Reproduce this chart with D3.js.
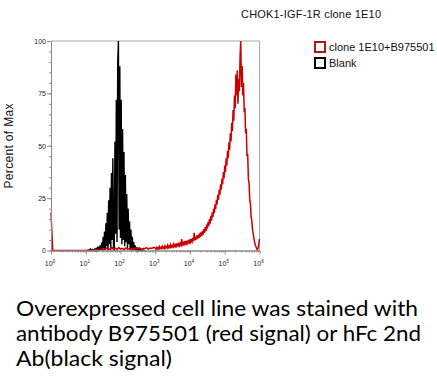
<!DOCTYPE html>
<html>
<head>
<meta charset="utf-8">
<script src="https://cdn.jsdelivr.net/npm/d3@7"></script>
<style>
  body { margin: 0; background: #fff; }
  svg { display: block; }
</style>
</head>
<body>
<svg id="chart" width="437" height="381"></svg>
<script>
// histogram channels, percent of max
const blackStart = 1.0, blackStep = 0.02;
const blackCounts = [
  0, 0, 0, 0, 0, 0.4, 0, 0.6, 0, 0.5,
  0, 0.3, 0, 0.7, 0, 0.8, 0, 1.2, 0.3, 1.8,
  0, 2.6, 0.5, 3.8, 0, 6.5, 1, 9, 0, 13,
  2, 18, 0, 24, 3, 30, 0, 37, 5, 44,
  0, 0, 52, 8, 72, 4, 90, 100, 10, 88,
  6, 72, 3, 58, 5, 47, 2, 36, 4, 27,
  1, 20, 3, 14, 0, 10, 1, 6.5, 0, 4,
  0.5, 2.5, 0, 1.5, 0, 1, 0, 0.6, 0, 0.4,
  0, 0.3, 0, 0.2, 0, 0
];

const redLowStart = 0.0, redLowStep = 0.05;
const redLowCounts = [
  18, 0, 0, 0, 0, 0, 0, 0, 0, 0, 0, 0, 0, 0, 0, 0, 0, 0, 0, 0,
  0, 0, 0, 0, 0, 0.3, 0, 0.5, 0.2, 0.8, 0.3, 0.6, 1.2, 0.4, 0.9, 1.5, 0.6, 1.1, 0.5, 1.4,
  0.7, 1.0, 0.4, 1.2, 0.6, 0.9, 0.5, 1.1, 0.7, 1.3, 0.8, 1.2, 0.6, 1.0, 0.9, 1.4, 0.7, 1.2, 1.0, 1.5
];

const redHighStart = 3.0, redHighStep = 0.02;
const redHighCounts = [
  1.2, 0.6, 1.5, 0.8, 1.3, 0.7, 1.8, 1.0, 1.4, 0.9, 2.0, 1.1, 1.6, 1.0, 2.2, 1.3, 1.8, 1.2, 2.5, 1.4,
  2.0, 1.5, 2.8, 1.6, 2.2, 1.7, 3.0, 1.8, 2.6, 2.0, 3.4, 2.1, 2.9, 2.3, 3.8, 2.4, 3.2, 2.6, 5.5, 2.8,
  3.6, 2.9, 4.4, 3.1, 4.0, 3.3, 4.8, 3.5, 4.4, 3.8, 5.4, 4.0, 5.0, 4.2, 6.0, 4.5, 8.5, 4.8, 6.6, 5.2,
  7.2, 5.6, 7.6, 6.0, 8.2, 6.5, 8.8, 7.0, 9.4, 7.6, 10.2, 8.4, 11.2, 9.2, 12.4, 10.4, 13.6, 11.6, 15.0, 12.8,
  16.6, 14.2, 18.2, 16.0, 20.0, 17.8, 22.0, 19.8, 24.2, 22.0, 26.6, 24.2, 29.0, 26.6, 31.6, 29.0, 34.4, 31.6, 37.4, 34.4,
  40.6, 37.4, 44.0, 40.6, 47.6, 44.0, 51.6, 48.0, 56.0, 52.0, 61.0, 57.0, 67.0, 62.0, 74.0, 68.0, 84.0, 74.0, 86.0, 70.0,
  82.0, 76.0, 92.0, 100.0, 78.0, 88.0, 74.0, 80.0, 66.0, 68.0, 56.0, 58.0, 45.0, 46.0, 34.0, 32.0, 24.0, 22.0, 16.0, 14.0,
  10.0, 8.0, 5.5, 4.0, 2.5, 1.8, 0.8, 0.5, 1.2, 3.0, 5.5
];

const xTickValues = [1, 10, 100, 1000, 10000, 100000, 1000000];
const yTickValues = [0, 25, 50, 75, 100];
const yMinorValues = d3.range(0, 101, 5);

const chartTitle = "CHOK1-IGF-1R clone 1E10";
const yLabel = "Percent of Max";
const legendItems = [
  { label: "clone 1E10+B975501", color: "#b01818" },
  { label: "Blank", color: "#000000" }
];
const captionLines = [
  "Overexpressed cell line was stained with",
  "antibody B975501 (red signal) or hFc 2nd",
  "Ab(black signal)"
];
const captionWidths = [402, 405, 156];

const svg = d3.select("#chart");
const frame = { left: 51, right: 259.5, top: 41, bottom: 250.5 };
const axisGrey = "#8c8c8c";
const font = "Arial, 'Liberation Sans', sans-serif";

const x = d3.scaleLog().domain([1, 1e6]).range([frame.left, frame.right]);
const y = d3.scaleLinear().domain([0, 100]).range([frame.bottom, frame.top]);

const toPoints = (start, step, counts) =>
  counts.map((v, i) => [Math.pow(10, start + i * step), v]);

const line = d3.line()
  .x(d => x(d[0]))
  .y(d => y(d[1]));

// frame top/right
svg.append("path")
  .attr("d", `M${frame.left},${frame.top}H${frame.right}V${frame.bottom}`)
  .attr("fill", "none")
  .attr("stroke", "#a8a8a8")
  .attr("stroke-width", 1);

// histograms
svg.append("path")
  .datum(toPoints(blackStart, blackStep, blackCounts))
  .attr("d", line)
  .attr("fill", "none")
  .attr("stroke", "#000")
  .attr("stroke-width", 1.4);

const redPoints = toPoints(redLowStart, redLowStep, redLowCounts)
  .concat(toPoints(redHighStart, redHighStep, redHighCounts));
svg.append("path")
  .datum(redPoints)
  .attr("d", line)
  .attr("fill", "none")
  .attr("stroke", "#cc0000")
  .attr("stroke-width", 1.5);

// y axis
const yAxis = svg.append("g")
  .attr("transform", `translate(${frame.left},0)`)
  .call(d3.axisLeft(y).tickValues(yTickValues).tickSize(4).tickSizeOuter(0).tickPadding(1));
svg.append("g")
  .attr("transform", `translate(${frame.left},0)`)
  .call(d3.axisLeft(y).tickValues(yMinorValues).tickSize(2).tickSizeOuter(0).tickFormat(""));

// x axis, decades plus 2..9 minor ticks
const minorX = [];
xTickValues.slice(0, -1).forEach(p => {
  for (let k = 2; k <= 9; k++) minorX.push(p * k);
});
svg.append("g")
  .attr("transform", `translate(0,${frame.bottom})`)
  .call(d3.axisBottom(x).tickValues(xTickValues).tickSize(4).tickSizeOuter(0).tickFormat(""));
svg.append("g")
  .attr("transform", `translate(0,${frame.bottom})`)
  .call(d3.axisBottom(x).tickValues(minorX).tickSize(2).tickSizeOuter(0).tickFormat(""));

svg.selectAll(".domain, .tick line")
  .attr("stroke", axisGrey);
yAxis.selectAll("text")
  .attr("font-family", font)
  .attr("font-size", 7)
  .attr("fill", "#222");

xTickValues.forEach(v => {
  const t = svg.append("text")
    .attr("x", x(v) - 1)
    .attr("y", 266)
    .attr("text-anchor", "middle")
    .attr("font-family", font)
    .attr("font-size", 7)
    .attr("fill", "#222");
  t.append("tspan").text("10");
  t.append("tspan")
    .attr("dy", -3)
    .attr("font-size", 4.5)
    .text(Math.round(Math.log10(v)));
});

// titles
svg.append("text")
  .attr("x", 241)
  .attr("y", 18)
  .attr("font-family", font)
  .attr("font-size", 11)
  .attr("textLength", 140)
  .attr("fill", "#111")
  .text(chartTitle);

svg.append("text")
  .attr("transform", "translate(13,146) rotate(-90)")
  .attr("text-anchor", "middle")
  .attr("font-family", font)
  .attr("font-size", 12)
  .attr("textLength", 85)
  .attr("fill", "#111")
  .text(yLabel);

// legend
const legend = svg.append("g")
  .attr("transform", "translate(315,42)");
legendItems.forEach((d, i) => {
  legend.append("rect")
    .attr("x", 0)
    .attr("y", i * 16)
    .attr("width", 10)
    .attr("height", 10)
    .attr("fill", "none")
    .attr("stroke", d.color)
    .attr("stroke-width", 2);
  legend.append("text")
    .attr("x", 14)
    .attr("y", i * 16 + 9)
    .attr("font-family", font)
    .attr("font-size", 11)
    .attr("fill", "#111")
    .text(d.label);
});

// caption under the chart
captionLines.forEach((s, i) => {
  svg.append("text")
    .attr("x", 16)
    .attr("y", 316 + i * 25)
    .attr("font-family", "Lato, 'Open Sans', sans-serif")
    .attr("font-size", 22)
    .attr("textLength", captionWidths[i])
    .attr("lengthAdjust", "spacingAndGlyphs")
    .attr("fill", "#000")
    .text(s);
});
</script>
</body>
</html>
